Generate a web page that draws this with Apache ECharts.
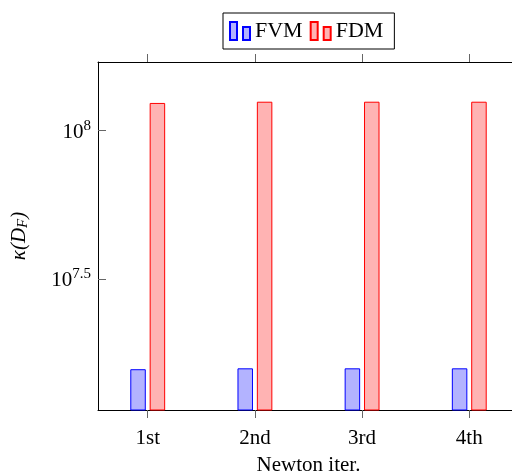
<!DOCTYPE html>
<html>
<head>
<meta charset="utf-8">
<script src="https://cdn.jsdelivr.net/npm/echarts@6/dist/echarts.min.js"></script>
<style>
html,body{margin:0;padding:0;background:#fff;}
#c{width:512px;height:473px;}
</style>
</head>
<body>
<div id="c"></div>
<script>
// Data
const categories = ['1st', '2nd', '3rd', '4th'];
const fvmValues = [1.567e7, 1.578e7, 1.578e7, 1.578e7];
const fdmValues = [1.241e8, 1.253e8, 1.253e8, 1.253e8];
const yTickExponents = [7.5, 8];
const yTickLabels = ['7.5', '8'];
const xTitle = 'Newton iter.';

const FONT = 'Liberation Serif';
const chart = echarts.init(document.getElementById('c'), null, {renderer: 'canvas'});

const toPoints = vals => vals.map((v, i) => [i, Math.log10(v)]);
const catIdx = categories.map((c, i) => i);

const xCommon = {
  type: 'value',
  min: -0.464,
  max: 3.464,
  splitLine: {show: false},
  axisLine: {show: true, onZero: false, lineStyle: {color: '#000', width: 1}},
  axisTick: {show: true, inside: false, length: 8, customValues: catIdx, lineStyle: {color: '#666', width: 1}}
};

const option = {
  backgroundColor: '#fff',
  animation: false,
  textStyle: {fontFamily: FONT},
  grid: {left: 98, right: -7, top: 62, bottom: 63, containLabel: false, outerBoundsMode: 'none'},
  legend: {
    show: true,
    left: 223,
    top: 13,
    orient: 'horizontal',
    padding: [7, 11, 7, 6],
    itemGap: 7,
    itemWidth: 20,
    itemHeight: 18,
    borderColor: '#000',
    borderWidth: 1,
    icon: 'path://M0,0 H7 V18 H0 Z M13,5 H20 V18 H13 Z',
    textStyle: {fontFamily: FONT, fontSize: 22, color: '#000'},
    data: ['FVM', 'FDM']
  },
  xAxis: [
    Object.assign({}, xCommon, {
      position: 'bottom',
      name: xTitle,
      nameLocation: 'middle',
      nameGap: 45,
      nameTextStyle: {fontFamily: FONT, fontSize: 21, color: '#000'},
      axisLabel: {
        show: true,
        customValues: catIdx,
        margin: 18,
        fontFamily: FONT,
        fontSize: 21,
        color: '#000',
        formatter: v => categories[Math.round(v)] || ''
      }
    }),
    Object.assign({}, xCommon, {
      position: 'top',
      axisLabel: {show: false}
    })
  ],
  yAxis: [{
    type: 'value',
    min: 7.0574,
    max: 8.232,
    splitLine: {show: false},
    axisLine: {show: true, onZero: false, lineStyle: {color: '#000', width: 1}},
    axisTick: {show: true, inside: true, length: 8, customValues: yTickExponents, lineStyle: {color: '#666', width: 1}},
    name: '{i|κ(D}{sub|F}{i|)}',
    nameLocation: 'middle',
    nameRotate: 90,
    nameGap: 67,
    nameTextStyle: {
      color: '#000',
      rich: {
        i: {fontFamily: FONT, fontStyle: 'italic', fontSize: 21, color: '#000'},
        sub: {fontFamily: FONT, fontStyle: 'italic', fontSize: 15, color: '#000', verticalAlign: 'bottom', padding: [8, 0, 0, 0]}
      }
    },
    axisLabel: {
      show: true,
      customValues: yTickExponents,
      margin: 7,
      formatter: v => {
        const k = yTickExponents.findIndex(e => Math.abs(e - v) < 1e-6);
        return k < 0 ? '' : '{b|10}{s|' + yTickLabels[k] + '}';
      },
      rich: {
        b: {fontFamily: FONT, fontSize: 21, color: '#000', verticalAlign: 'bottom'},
        s: {fontFamily: FONT, fontSize: 15, color: '#000', verticalAlign: 'top', padding: [0, 0, 10, 0]}
      }
    }
  }],
  series: [
    {
      name: 'FVM',
      type: 'bar',
      xAxisIndex: 0,
      yAxisIndex: 0,
      clip: true,
      barWidth: 15.5,
      barGap: '25%',
      itemStyle: {color: '#b3b3ff', borderColor: '#0000ff', borderWidth: 1},
      data: toPoints(fvmValues)
    },
    {
      name: 'FDM',
      type: 'bar',
      xAxisIndex: 0,
      yAxisIndex: 0,
      clip: true,
      barWidth: 15.5,
      barGap: '25%',
      itemStyle: {color: '#ffb3b3', borderColor: '#ff0000', borderWidth: 1},
      data: toPoints(fdmValues)
    }
  ]
};
chart.setOption(option);
</script>
</body>
</html>
